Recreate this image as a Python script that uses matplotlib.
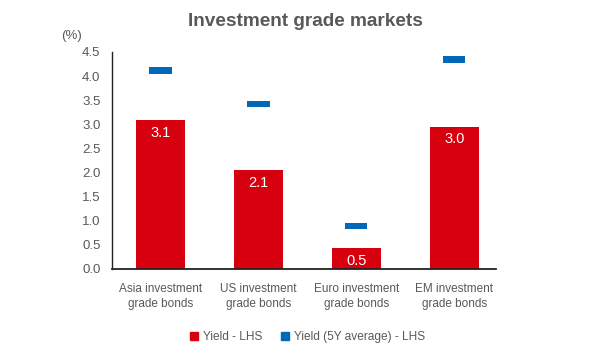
import numpy as np
import matplotlib.pyplot as plt
from matplotlib.patches import Patch

plt.rcParams['font.family'] = ['Liberation Sans', 'DejaVu Sans']

categories = ["Asia investment\ngrade bonds", "US investment\ngrade bonds",
              "Euro investment\ngrade bonds", "EM investment\ngrade bonds"]
yield_now = [3.09, 2.05, 0.44, 2.95]
yield_labels = ["3.1", "2.1", "0.5", "3.0"]
yield_5y = [4.12, 3.42, 0.89, 4.35]

red = "#D7000F"
blue = "#0068B7"
grey = "#595959"

fig = plt.figure(figsize=(5.9, 3.53), dpi=100)
ax = fig.add_axes([0.189, 0.238, 0.651, 0.615])

x = np.arange(len(categories))
ax.bar(x, yield_now, width=0.5, color=red, zorder=2)
for xi, v, lab in zip(x, yield_now, yield_labels):
    ax.text(xi, v - 0.12, lab, ha="center", va="top", color="white", fontsize=10.5)

# 5Y average shown as short horizontal dashes
mh = 0.14
ax.bar(x, [mh] * len(x), bottom=np.array(yield_5y) - mh / 2, width=0.225, color=blue, zorder=3)

ax.set_xlim(-0.5, 3.42)
ax.set_ylim(0, 4.5)
ticks = np.arange(0, 4.51, 0.5)
ax.set_yticks(ticks)
ax.set_yticklabels([f"{t:.1f}" for t in ticks])
ax.set_xticks(x)
ax.set_xticklabels(categories, fontsize=8.5, color=grey, linespacing=1.4)
ax.tick_params(axis="y", length=0, labelsize=9.5, labelcolor=grey, pad=8)
ax.tick_params(axis="x", length=0, pad=10)
for s in ["top", "right"]:
    ax.spines[s].set_visible(False)
ax.spines["left"].set_color("#222222")
ax.spines["bottom"].set_color("#222222")
ax.spines["left"].set_linewidth(1.0)
ax.spines["bottom"].set_linewidth(1.3)

fig.text(0.518, 0.938, "Investment grade markets", ha="center", va="center",
         fontsize=13.7, fontweight="bold", color=grey)
fig.text(0.122, 0.898, "(%)", ha="center", va="center", fontsize=9.5, color=grey)

handles = [Patch(color=red, label="Yield - LHS"), Patch(color=blue, label="Yield (5Y average) - LHS")]
fig.legend(handles=handles, loc="center", bbox_to_anchor=(0.521, 0.045), ncol=2, frameon=False,
           fontsize=8.6, handlelength=0.7, handleheight=0.7, handletextpad=0.35, columnspacing=1.6,
           labelcolor=grey)

fig.savefig("out.png", dpi=100)
